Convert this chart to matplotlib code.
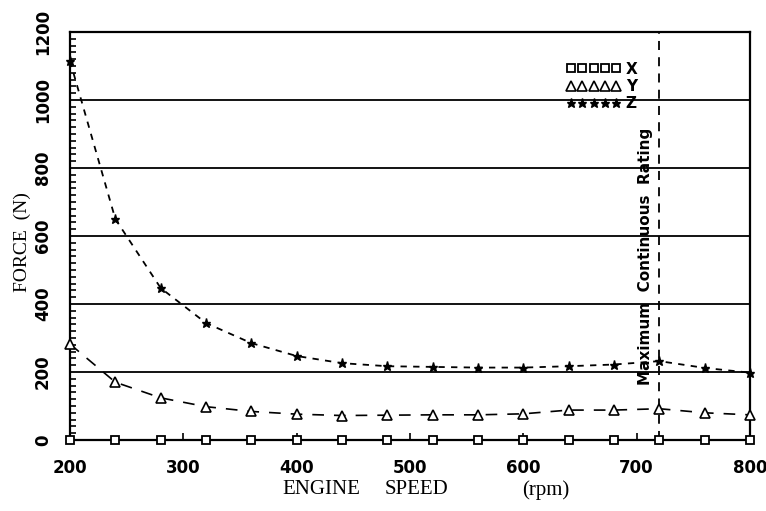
import matplotlib
matplotlib.use("Agg")
import matplotlib.pyplot as plt
from matplotlib.lines import Line2D
from matplotlib.ticker import MultipleLocator

speed = [200, 240, 280, 320, 360, 400, 440, 480, 520, 560, 600, 640, 680, 720, 760, 800]
force_x = [0, 0, 0, 0, 0, 0, 0, 0, 0, 0, 0, 0, 0, 0, 0, 0]
force_y = [282, 170, 124, 98, 84, 76, 72, 73, 74, 74, 77, 88, 88, 92, 80, 74]
force_z = [1115, 650, 447, 344, 285, 247, 226, 217, 215, 213, 213, 217, 222, 232, 212, 198]
x_ticks = [200, 300, 400, 500, 600, 700, 800]
y_ticks = [0, 200, 400, 600, 800, 1000, 1200]
mcr_speed = 720
mcr_label = "Maximum  Continuous  Rating"

fig = plt.figure(figsize=(7.66, 5.11), dpi=100)
ax = fig.add_axes([70/766, 1-440/511, 680/766, 408/511])

ax.set_xlim(200, 800)
ax.set_ylim(0, 1200)

# horizontal grid lines
for yv in y_ticks[1:-1]:
    ax.axhline(yv, color="black", lw=1.3, zorder=1)

# MCR line
ax.axvline(mcr_speed, color="black", lw=1.3, dashes=(5, 4), zorder=1)
ax.text(mcr_speed - 12, 540, mcr_label, rotation=90, ha="center", va="center",
        fontsize=11, fontweight="bold", family="DejaVu Sans")

kw = dict(color="black", clip_on=False, zorder=3)
ax.plot(speed, force_x, lw=1.3, marker="s", ms=6, mfc="white", mec="black", mew=1.3, **kw)
ax.plot(speed, force_y, lw=1.2, dashes=(7, 6), marker="^", ms=6.5, mfc="white", mec="black", mew=1.2, **kw)
ax.plot(speed, force_z, lw=1.3, dashes=(3.5, 3.5), marker="*", ms=6.5, mfc="black", mec="black", **kw)

for s in ax.spines.values():
    s.set_linewidth(1.6)

ax.set_xticks(x_ticks)
ax.set_yticks(y_ticks)
ax.yaxis.set_minor_locator(MultipleLocator(20))
ax.tick_params(axis="x", which="major", direction="in", length=5, width=1.2, pad=14,
               labelsize=12)
ax.tick_params(axis="y", which="major", direction="in", length=0, pad=13, labelsize=12)
ax.tick_params(axis="y", which="minor", direction="in", length=4, width=1.2)
for lab in ax.get_xticklabels():
    lab.set_fontweight("bold")
for lab in ax.get_yticklabels():
    lab.set_fontweight("bold")
    lab.set_rotation(90)
    lab.set_va("center")

handles = [
    Line2D([], [], ls="none", marker="s", ms=6, mfc="white", mec="black", mew=1.3, color="black"),
    Line2D([], [], ls="none", marker="^", ms=6.5, mfc="white", mec="black", mew=1.2, color="black"),
    Line2D([], [], ls="none", marker="*", ms=6.5, mfc="black", mec="black", color="black"),
]
leg = ax.legend(handles, ["X", "Y", "Z"], numpoints=5, frameon=False,
                loc="upper right", bbox_to_anchor=((645-70)/680, (440-54)/408),
                handlelength=3.6, handletextpad=0.3, labelspacing=0.15, borderpad=0,
                prop={"size": 11, "weight": "bold"})

lab_kw = dict(ha="center", va="center", fontsize=15, family="Liberation Serif")
fig.text(321/766, 1-490/511, "ENGINE", **lab_kw)
fig.text(416/766, 1-490/511, "SPEED", **lab_kw)
fig.text(546/766, 1-490/511, "(rpm)", **lab_kw)
fig.text(22/766, 1-242/511, "FORCE  (N)", ha="center", va="center", rotation=90,
         fontsize=14, family="Liberation Serif")

fig.savefig("out.png", dpi=100)
